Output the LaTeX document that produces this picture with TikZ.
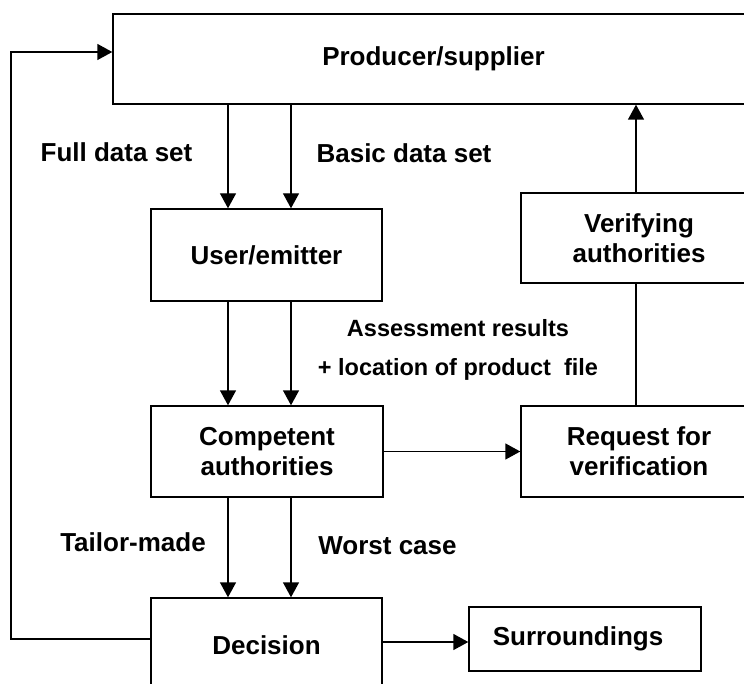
\documentclass[tikz,border=0pt]{standalone}
\usepackage{fontspec}
\setmainfont{Liberation Sans}
\usetikzlibrary{arrows.meta}
\begin{document}
\begin{tikzpicture}[x=1pt,y=-1pt,
  box/.style={draw,line width=1.4pt,inner sep=0pt,align=center,
    font=\bfseries\fontsize{26}{30}\selectfont},
  lbl/.style={inner sep=0pt,anchor=base,font=\bfseries\fontsize{26}{30}\selectfont},
  slbl/.style={inner sep=0pt,anchor=base,font=\bfseries\fontsize{23.5}{28}\selectfont},
  conn/.style={line width=1.4pt},
  arr/.style={conn,-{Triangle[length=15pt,width=16pt]}}]
\useasboundingbox (0,0) rectangle (744,684);
\clip (0,0) rectangle (744,684);
\node[box,minimum width=641pt,minimum height=90pt] (prod) at (433.5,59) {Producer/supplier};
\node[box,minimum width=231pt,minimum height=92pt] (user) at (266.5,255) {User/emitter};
\node[box,minimum width=236pt,minimum height=90pt] (verif) at (639,238) {Verifying\\authorities};
\node[box,minimum width=232pt,minimum height=91pt] (comp) at (267,451.5) {Competent\\authorities};
\node[box,minimum width=236pt,minimum height=91pt] (req) at (639,451.5) {Request for\\verification};
\node[box,minimum width=231pt,minimum height=94pt] (dec) at (266.5,645) {Decision};
\node[box,minimum width=232pt,minimum height=64pt] (surr) at (585,639) {Surroundings\hspace{14pt}};

\node[lbl] (full) at (116.5,162) {Full data set};
\node[lbl] (basic) at (404,163) {Basic data set};
\node[slbl] (assess) at (458,337) {Assessment results};
\node[slbl] (loc) at (458,375) {+ location of product\ \ file};
\node[lbl] (tailor) at (133,551) {Tailor-made};
\node[lbl] (worst) at (387.5,554) {Worst case};

\coordinate (xa) at (228,0);
\coordinate (xb) at (291,0);
\coordinate (xv) at (636,0);
\coordinate (yl) at (0,639);
\coordinate (yt) at (0,52);
\coordinate (xl) at (11,0);
\coordinate (ys) at (0,642);

\draw[arr] (prod.south -| xa) -- (user.north -| xa);
\draw[arr] (prod.south -| xb) -- (user.north -| xb);
\draw[arr] (user.south -| xa) -- (comp.north -| xa);
\draw[arr] (user.south -| xb) -- (comp.north -| xb);
\draw[arr] (comp.south -| xa) -- (dec.north -| xa);
\draw[arr] (comp.south -| xb) -- (dec.north -| xb);
\draw[arr] (comp.east) -- (req.west);
\draw[conn] (req.north -| xv) -- (verif.south -| xv);
\draw[arr] (verif.north -| xv) -- (prod.south -| xv);
\draw[arr] (dec.east |- ys) -- (surr.west |- ys);
\draw[arr] (dec.west |- yl) -- (xl |- yl) -- (xl |- yt) -- (prod.west |- yt);
\end{tikzpicture}
\end{document}
